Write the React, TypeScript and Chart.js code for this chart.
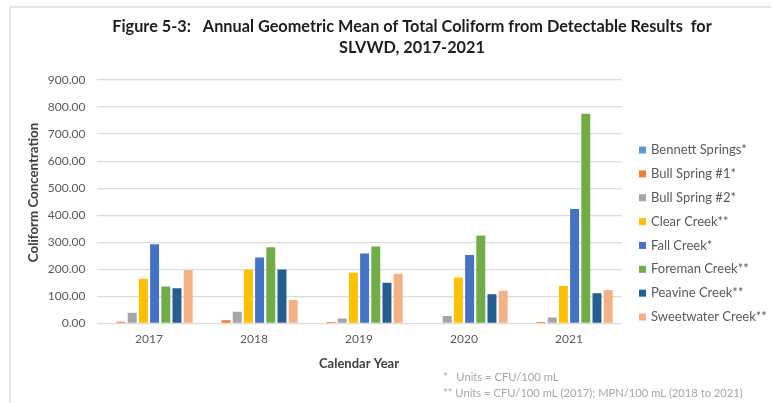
import React, { useEffect, useRef } from "react";
import { Chart, registerables } from "chart.js";

Chart.register(...registerables);

const years = ["2017", "2018", "2019", "2020", "2021"];
const seriesNames = [
  "Bennett Springs*",
  "Bull Spring #1*",
  "Bull Spring #2*",
  "Clear Creek**",
  "Fall Creek*",
  "Foreman Creek**",
  "Peavine Creek**",
  "Sweetwater Creek**",
];
const bennettSprings = [null, null, null, null, null];
const bullSpring1 = [6, 11, 5, null, 5];
const bullSpring2 = [39, 43, 18, 27, 21];
const clearCreek = [165, 199, 187, 169, 138];
const fallCreek = [292, 243, 258, 253, 423];
const foremanCreek = [136, 281, 284, 325, 775];
const peavineCreek = [130, 199, 150, 107, 111];
const sweetwaterCreek = [196, 86, 183, 120, 123];
const seriesValues = [
  bennettSprings,
  bullSpring1,
  bullSpring2,
  clearCreek,
  fallCreek,
  foremanCreek,
  peavineCreek,
  sweetwaterCreek,
];
const seriesColors = [
  "#5B9BD5",
  "#ED7D31",
  "#A5A5A5",
  "#FFC000",
  "#4472C4",
  "#70AD47",
  "#255E91",
  "#F4B183",
];
const yMin = 0;
const yMax = 900;
const yStep = 100;

const titleLines = [
  "Figure 5-3:   Annual Geometric Mean of Total Coliform from Detectable Results  for",
  "SLVWD, 2017-2021",
];
const yAxisTitle = "Coliform Concentration";
const xAxisTitle = "Calendar Year";
const footnotes = [
  "*   Units = CFU/100 mL",
  "** Units = CFU/100 mL (2017); MPN/100 mL (2018 to 2021)",
];

const FONT = "Lato, 'Open Sans', sans-serif";

const overlayPlugin = {
  id: "overlay",
  afterDraw(chart: any) {
    const ctx = chart.ctx as CanvasRenderingContext2D;
    ctx.save();
    // Title
    ctx.fillStyle = "#1e1e1e";
    ctx.font = `bold 16.3px ${FONT}`;
    ctx.textAlign = "center";
    ctx.textBaseline = "middle";
    ctx.fillText(titleLines[0], 412, 27);
    ctx.fillText(titleLines[1], 412, 48);
    // Y axis title
    ctx.save();
    ctx.translate(34, 192.5);
    ctx.rotate(-Math.PI / 2);
    ctx.fillStyle = "#404040";
    ctx.font = `bold 13.3px ${FONT}`;
    ctx.fillText(yAxisTitle, 0, 0);
    ctx.restore();
    // Legend
    ctx.font = `13px ${FONT}`;
    ctx.textAlign = "left";
    chart.data.datasets.forEach((ds: any, i: number) => {
      const y = 150 + i * 23.86;
      ctx.fillStyle = ds.backgroundColor;
      ctx.fillRect(639, y - 3.5, 7, 7);
      ctx.fillStyle = "#595959";
      ctx.fillText(ds.label, 651, y);
    });
    // Footnotes
    ctx.font = `11.2px ${FONT}`;
    ctx.fillStyle = "#a6a6a6";
    ctx.fillText(footnotes[0], 443, 377);
    ctx.fillText(footnotes[1], 443, 393);
    ctx.restore();
  },
};

export default function App() {
  const canvasRef = useRef<HTMLCanvasElement | null>(null);

  useEffect(() => {
    if (!canvasRef.current) return;
    const chart = new Chart(canvasRef.current, {
      type: "bar",
      data: {
        labels: years,
        datasets: seriesNames.map((name, i) => ({
          label: name,
          data: seriesValues[i] as any,
          backgroundColor: seriesColors[i],
          borderWidth: 0,
          categoryPercentage: 0.853,
          barPercentage: 0.8,
        })),
      },
      options: {
        animation: false,
        responsive: false,
        devicePixelRatio: 1,
        layout: {
          padding: { left: 26, right: 149.5, top: 80, bottom: 29.7 },
        },
        plugins: {
          legend: { display: false },
          title: { display: false },
          tooltip: { enabled: false },
        },
        scales: {
          x: {
            grid: { display: false },
            border: { display: false },
            ticks: {
              color: "#595959",
              font: { family: FONT, size: 12 },
              padding: 1,
            },
            title: {
              display: true,
              text: xAxisTitle,
              color: "#404040",
              font: { family: FONT, size: 13, weight: "bold" },
              padding: { top: 0, bottom: 2 },
            },
            afterFit: (s: any) => {
              s.height = 50;
            },
          },
          y: {
            min: yMin,
            max: yMax,
            grid: { color: "#dcdcdc", lineWidth: 1.2, drawTicks: false },
            border: { display: false },
            ticks: {
              stepSize: yStep,
              color: "#595959",
              font: { family: FONT, size: 12 },
              padding: 11,
              callback: (v: any) => Number(v).toFixed(2),
            },
            title: { display: false },
            afterFit: (s: any) => {
              s.width = 70.5;
            },
          },
        },
      } as any,
      plugins: [overlayPlugin],
    });
    return () => chart.destroy();
  }, []);

  return (
    <div style={{ position: "absolute", left: 0, top: 0, width: 771, height: 403, background: "#fff" }}>
      <div
        style={{
          position: "absolute",
          left: 9,
          top: 6,
          right: 0,
          bottom: 0,
          borderLeft: "2px solid #e6e6e6",
          borderTop: "2px solid #e6e6e6",
          pointerEvents: "none",
        }}
      />
      <canvas
        ref={canvasRef}
        width={771}
        height={403}
        style={{ position: "absolute", left: 0, top: 0, width: 771, height: 403 }}
      />
    </div>
  );
}
